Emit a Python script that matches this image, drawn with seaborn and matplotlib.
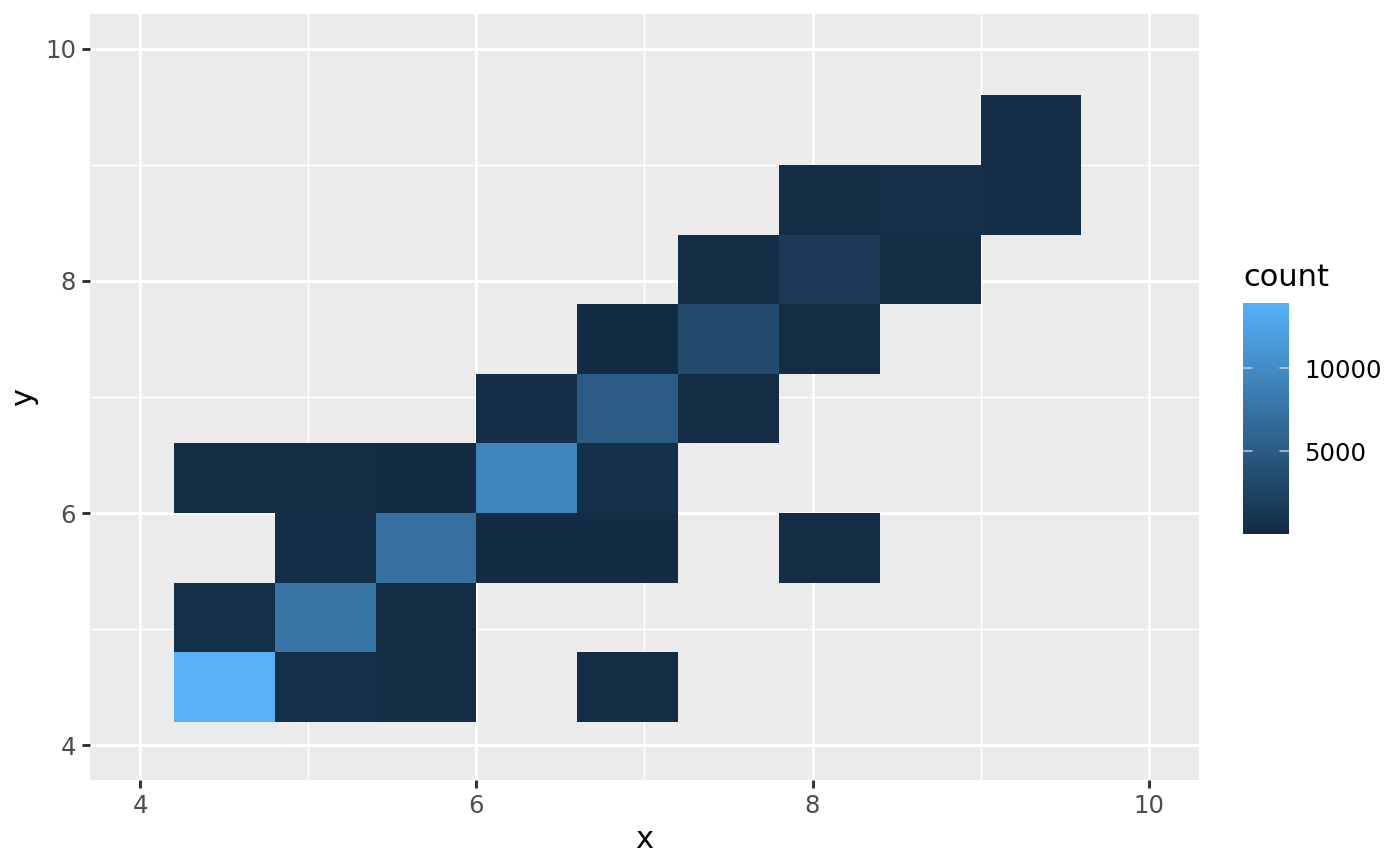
import numpy as np
import pandas as pd
import matplotlib
matplotlib.use('Agg')
import matplotlib.pyplot as plt
from matplotlib.colors import LinearSegmentedColormap
import seaborn as sns

# 每个格子的中心点和计数（从图上估出来的）
x_centers = [4.5, 5.1, 5.7, 6.9,
             4.5, 5.1, 5.7,
             5.1, 5.7, 6.3, 6.9, 8.1,
             4.5, 5.1, 5.7, 6.3, 6.9,
             6.3, 6.9, 7.5,
             6.9, 7.5, 8.1,
             7.5, 8.1, 8.7,
             8.1, 8.7, 9.3,
             9.3]
y_centers = [4.5, 4.5, 4.5, 4.5,
             5.1, 5.1, 5.1,
             5.7, 5.7, 5.7, 5.7, 5.7,
             6.3, 6.3, 6.3, 6.3, 6.3,
             6.9, 6.9, 6.9,
             7.5, 7.5, 7.5,
             8.1, 8.1, 8.1,
             8.7, 8.7, 8.7,
             9.3]
counts = [13930, 400, 150, 120,
          500, 7700, 150,
          350, 7100, 30, 100, 120,
          120, 120, 100, 9200, 500,
          300, 5150, 200,
          100, 3300, 150,
          150, 1700, 150,
          150, 400, 300,
          250]
cbar_ticks = [5000, 10000]
axis_ticks = [4, 6, 8, 10]

df = pd.DataFrame({'x': x_centers, 'y': y_centers, 'count': counts})
edges = np.round(np.arange(4.2, 9.61, 0.6), 2)

sns.set_theme(style='darkgrid')
plt.rcParams['font.family'] = ['DejaVu Sans']

fig = plt.figure(figsize=(7, 4.33), dpi=200)
ax = fig.add_axes([90 / 1400, 1 - 780 / 866, 1109 / 1400, 766 / 866])
cax = fig.add_axes([1243 / 1400, 1 - 534 / 866, 46 / 1400, 231 / 866])

gg_blue = LinearSegmentedColormap.from_list('gg', ['#132B43', '#56B1F7'])

sns.histplot(data=df, x='x', y='y', weights='count', bins=(edges, edges),
             cmap=gg_blue, cbar=True, cbar_ax=cax, ax=ax)

# 面板样式（模仿 ggplot 灰底白网格）
ax.set_facecolor('#EBEBEB')
for s in ax.spines.values():
    s.set_visible(False)
ax.set_xlim(3.7, 10.3)
ax.set_ylim(3.7, 10.3)
ax.set_xticks(axis_ticks)
ax.set_yticks(axis_ticks)
ax.set_xticks([5, 7, 9], minor=True)
ax.set_yticks([5, 7, 9], minor=True)
ax.set_axisbelow(True)
ax.grid(which='major', color='white', linewidth=1.07)
ax.grid(which='minor', color='white', linewidth=0.53)
ax.tick_params(which='major', length=2.75, width=1.07, color='#333333',
               labelsize=8.8, labelcolor='#4D4D4D', pad=2.2, direction='out')
ax.tick_params(which='minor', length=0)
ax.tick_params(axis='x', bottom=True)
ax.tick_params(axis='y', left=True)
ax.set_xlabel('x', fontsize=11, color='black', labelpad=2.5)
ax.set_ylabel('y', fontsize=11, color='black', labelpad=2.5)

# 色条：刻度画成内侧的浅色短线
cax.set_yticks(cbar_ticks)
cax.set_yticklabels([str(t) for t in cbar_ticks])
cax.tick_params(axis='y', length=0, left=False, right=False,
                labelleft=False, labelright=True,
                labelsize=8.8, labelcolor='black', pad=5.5)
for t in cbar_ticks:
    cax.axhline(t, 0, 0.2, color='#D9D9D9', linewidth=0.6, alpha=0.8, zorder=5)
    cax.axhline(t, 0.8, 1, color='#D9D9D9', linewidth=0.6, alpha=0.8, zorder=5)
for s in cax.spines.values():
    s.set_visible(False)
fig.text(1243 / 1400, 1 - 286 / 866, 'count', fontsize=11, color='black',
         ha='left', va='baseline')

fig.savefig('out.png', dpi=200, facecolor='white')
